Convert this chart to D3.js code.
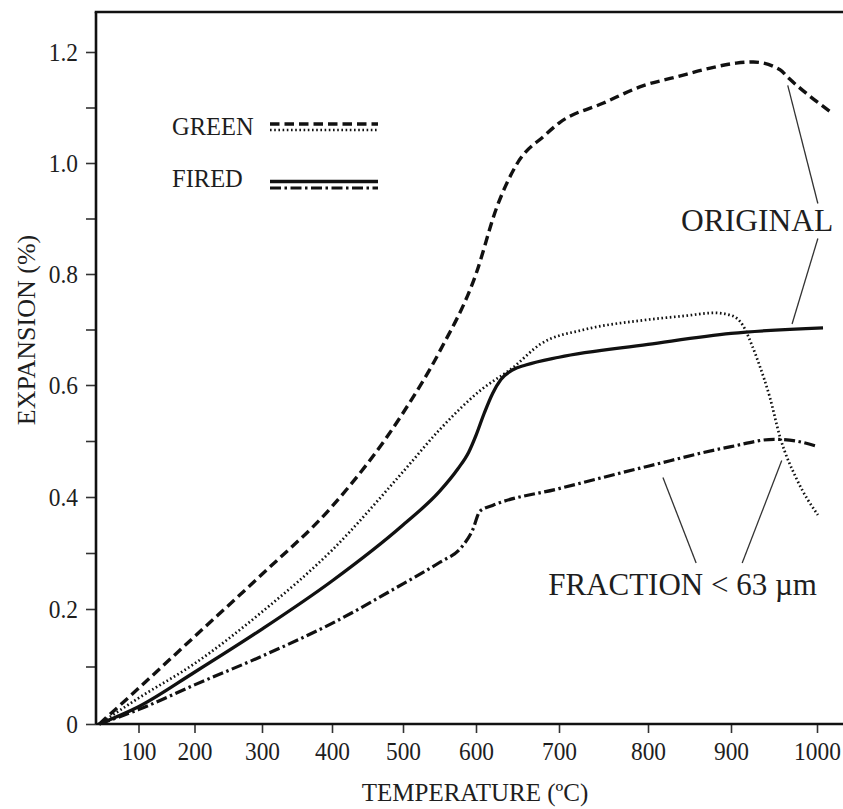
<!DOCTYPE html>
<html>
<head>
<meta charset="utf-8">
<script src="https://cdn.jsdelivr.net/npm/d3@7"></script>
<style>
  html, body { margin: 0; padding: 0; background: #fff; }
  svg { display: block; font-family: "Liberation Serif", "Times New Roman", serif; }
</style>
</head>
<body>
<svg id="chart" width="843" height="809"></svg>
<script>
// ---------------- data ----------------
const xTickValues = [100, 200, 300, 400, 500, 600, 700, 800, 900, 1000];
const yTickValues = [0, 0.1, 0.2, 0.3, 0.4, 0.5, 0.6, 0.7, 0.8, 0.9, 1.0, 1.1, 1.2];
const yTickLabels = ["0", "", "0.2", "", "0.4", "", "0.6", "", "0.8", "", "1.0", "", "1.2"];

// GREEN, original (dashed)
const greenOrigT = [30, 100, 200, 300, 400, 500, 550, 600, 625, 650, 683, 700, 750, 794, 834, 875, 906, 926, 957, 967, 992, 1015];
const greenOrigV = [0, 0.062, 0.152, 0.262, 0.383, 0.55, 0.66, 0.80, 0.92, 1.0, 1.05, 1.072, 1.108, 1.139, 1.155, 1.171, 1.18, 1.182, 1.168, 1.153, 1.12, 1.093];

// GREEN, fraction < 63 µm (dotted)
const greenFracT = [30, 100, 200, 300, 400, 500, 550, 605, 645, 677, 729, 791, 847, 880, 901, 914, 924, 933, 945, 957, 977, 1001];
const greenFracV = [0, 0.045, 0.105, 0.195, 0.305, 0.445, 0.52, 0.59, 0.632, 0.673, 0.70, 0.716, 0.725, 0.73, 0.725, 0.707, 0.673, 0.636, 0.579, 0.507, 0.43, 0.368];

// FIRED, original (solid)
const firedOrigT = [30, 100, 200, 300, 400, 500, 550, 575, 590, 600, 610, 620, 630, 645, 660, 700, 800, 900, 1007];
const firedOrigV = [0, 0.03, 0.09, 0.165, 0.25, 0.35, 0.41, 0.45, 0.48, 0.51, 0.55, 0.585, 0.61, 0.628, 0.636, 0.65, 0.673, 0.693, 0.703];

// FIRED, fraction < 63 µm (dash-dot)
const firedFracT = [30, 100, 200, 300, 400, 500, 550, 580, 595, 605, 620, 700, 800, 900, 950, 975, 1001];
const firedFracV = [0, 0.025, 0.068, 0.118, 0.175, 0.245, 0.283, 0.31, 0.34, 0.375, 0.385, 0.415, 0.455, 0.49, 0.503, 0.50, 0.49];

// annotation leader lines, in data coordinates [temp, expansion]
const originalLeaders = [[[966, 1.14], [1001, 0.927]], [[1001, 0.864], [971, 0.71]]];
const fractionLeaders = [[[818, 0.435], [858, 0.282]], [[959, 0.465], [913, 0.282]]];
const originalLabelPos = [1019, 0.878];
const fractionLabelPos = [687, 0.225];

// ---------------- layout ----------------
const svg = d3.select("#chart");
const plotLeft = 96, plotRight = 843, plotTop = 12, plotBottom = 724;

// the printed axis is not evenly spaced, so map each tick to its printed position
const x = d3.scaleLinear()
  .domain(xTickValues)
  .range([138.5, 194.5, 262, 332, 403, 476, 559, 648, 731, 817]);
const y = d3.scaleLinear()
  .domain([0, 0.2, 0.4, 0.6, 0.8, 1.0, 1.2])
  .range([724, 609, 497, 385, 274, 163, 52]);

const ink = "#111";
const textInk = "#1e1e1e";

// x axis
const xAxis = d3.axisBottom(x).tickValues(xTickValues).tickSize(9).tickPadding(9).tickSizeOuter(0)
  .tickFormat(d3.format("d"));
const gx = svg.append("g").attr("transform", `translate(0,${plotBottom})`).call(xAxis);
gx.select(".domain").remove();
gx.selectAll(".tick line").attr("stroke", "#333").attr("stroke-width", 1.6);
gx.selectAll(".tick text").attr("font-size", 26).attr("fill", textInk)
  .attr("font-family", "Liberation Serif").attr("transform", "scale(0.9,1)");

// y axis
const yAxis = d3.axisLeft(y).tickValues(yTickValues).tickSize(10).tickPadding(10).tickSizeOuter(0)
  .tickFormat((d, i) => yTickLabels[i]);
const gy = svg.append("g").attr("transform", `translate(${plotLeft},0)`).call(yAxis);
gy.select(".domain").remove();
gy.selectAll(".tick line").attr("stroke", "#333").attr("stroke-width", 1.6);
gy.selectAll(".tick text").attr("font-size", 26).attr("fill", textInk)
  .attr("font-family", "Liberation Serif").attr("transform", "scale(0.9,1)");

// frame lines
svg.append("line").attr("x1", plotLeft).attr("x2", plotRight).attr("y1", plotBottom).attr("y2", plotBottom)
  .attr("stroke", ink).attr("stroke-width", 2.6);
svg.append("line").attr("x1", plotLeft).attr("x2", plotLeft).attr("y1", plotTop).attr("y2", plotBottom)
  .attr("stroke", ink).attr("stroke-width", 2.6);
svg.append("line").attr("x1", plotLeft - 1.3).attr("x2", plotRight).attr("y1", plotTop).attr("y2", plotTop)
  .attr("stroke", ink).attr("stroke-width", 2.6);

// axis titles
svg.append("text").attr("x", 475).attr("y", 801).attr("text-anchor", "middle")
  .attr("font-size", 25).attr("fill", textInk).text("TEMPERATURE (ºC)");
svg.append("text").attr("transform", "translate(35,330) rotate(-90)").attr("text-anchor", "middle")
  .attr("font-size", 26).attr("fill", textInk).text("EXPANSION (%)");

// series
const styles = {
  dashed:  { w: 3.4, dash: "9.5 5" },
  dotted:  { w: 2.7, dash: "1.6 2.6" },
  solid:   { w: 3.3, dash: null },
  dashdot: { w: 3.2, dash: "11 3.5 2.5 3.5" }
};
const series = [
  { t: greenOrigT, v: greenOrigV, s: styles.dashed },
  { t: greenFracT, v: greenFracV, s: styles.dotted },
  { t: firedOrigT, v: firedOrigV, s: styles.solid },
  { t: firedFracT, v: firedFracV, s: styles.dashdot }
];
const line = d3.line().x(d => x(d[0])).y(d => y(d[1])).curve(d3.curveMonotoneX);
series.forEach(sr => {
  const pts = sr.t.map((t, i) => [t, sr.v[i]]);
  svg.append("path").datum(pts).attr("d", line)
    .attr("fill", "none").attr("stroke", ink).attr("stroke-width", sr.s.w)
    .attr("stroke-dasharray", sr.s.dash).attr("stroke-linejoin", "round");
});

// legend
const legend = [
  { label: "GREEN", ty: 135, lines: [{ y: 124, s: styles.dashed }, { y: 130, s: styles.dotted }] },
  { label: "FIRED", ty: 187, lines: [{ y: 181.5, s: styles.solid }, { y: 188, s: styles.dashdot }] }
];
legend.forEach(l => {
  svg.append("text").attr("x", 172).attr("y", l.ty).attr("font-size", 24.5).attr("fill", textInk).text(l.label);
  l.lines.forEach(ln => {
    svg.append("line").attr("x1", 270).attr("x2", 378).attr("y1", ln.y).attr("y2", ln.y)
      .attr("stroke", ink).attr("stroke-width", ln.s.w).attr("stroke-dasharray", ln.s.dash);
  });
});

// annotations
const leaderLine = d3.line().x(d => x(d[0])).y(d => y(d[1]));
originalLeaders.concat(fractionLeaders).forEach(seg => {
  svg.append("path").attr("d", leaderLine(seg)).attr("fill", "none")
    .attr("stroke", "#333").attr("stroke-width", 1.3);
});
svg.append("text").attr("x", x(originalLabelPos[0])).attr("y", y(originalLabelPos[1]))
  .attr("text-anchor", "end").attr("font-size", 31.5).attr("fill", textInk).text("ORIGINAL");
svg.append("text").attr("x", x(fractionLabelPos[0])).attr("y", y(fractionLabelPos[1]))
  .attr("text-anchor", "start").attr("font-size", 31).attr("fill", textInk).text("FRACTION < 63 µm");
</script>
</body>
</html>
